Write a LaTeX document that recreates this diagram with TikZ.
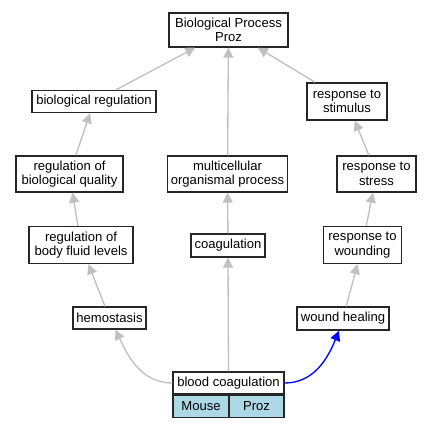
\documentclass[tikz,border=0pt]{standalone}
\usepackage{fontspec}
\setmainfont{Liberation Sans}
\usetikzlibrary{arrows.meta}
\definecolor{edgegray}{HTML}{C0C0C0}
\definecolor{cellblue}{HTML}{ADD8E6}
\tikzset{
  box/.style={draw=black!85, line width=1pt, rectangle, inner sep=0pt, align=center,
    font=\fontsize{9.8pt}{10.8pt}\selectfont, fill=white},
  edge/.style={draw=edgegray, line width=1pt, -{Triangle[length=7.5pt,width=7.5pt]}},
  bedge/.style={draw=blue, line width=1pt, -{Triangle[length=7.5pt,width=7.5pt]}},
}
\begin{document}
\begin{tikzpicture}[x=0.75pt,y=-0.75pt]
\useasboundingbox (0,0) rectangle (431,427);
\node[box, minimum width=119*0.75pt, minimum height=34*0.75pt] (bp) at (228.5,30) {Biological Process\\Proz};
\node[box, minimum width=124*0.75pt, minimum height=22*0.75pt] (br) at (94,101.5) {biological regulation};
\node[box, minimum width=80*0.75pt, minimum height=37*0.75pt] (rs) at (347,101.5) {response to\\stimulus};
\node[box, minimum width=107*0.75pt, minimum height=36*0.75pt] (rbq) at (69.5,174) {regulation of\\biological quality};
\node[box, minimum width=120*0.75pt, minimum height=36*0.75pt] (mop) at (227.5,174) {multicellular\\organismal process};
\node[box, minimum width=79*0.75pt, minimum height=36*0.75pt] (rst) at (376.5,174) {response to\\stress};
\node[box, minimum width=104*0.75pt, minimum height=37*0.75pt] (rbf) at (81,245) {regulation of\\body fluid levels};
\node[box, minimum width=74*0.75pt, minimum height=23*0.75pt] (coag) at (228,245.5) {coagulation};
\node[box, minimum width=78*0.75pt, minimum height=37*0.75pt] (rw) at (362.5,245) {response to\\wounding};
\node[box, minimum width=73*0.75pt, minimum height=22*0.75pt] (hem) at (109.5,318) {hemostasis};
\node[box, minimum width=92*0.75pt, minimum height=23*0.75pt] (wh) at (343,318.5) {wound healing};
\node[box, minimum width=111*0.75pt, minimum height=22*0.75pt] (bc) at (228.5,383) {blood coagulation};
\node[box, fill=cellblue, minimum width=56*0.75pt, minimum height=22*0.75pt, anchor=north west] (mouse) at (bc.south west) {Mouse};
\node[box, fill=cellblue, minimum width=55*0.75pt, minimum height=22*0.75pt, anchor=north east] (proz) at (bc.south east) {Proz};
\draw[edge] (br) -- (bp);
\draw[edge] (mop) -- (bp);
\draw[edge] (rs) -- (bp);
\draw[edge] (rbq) -- (br);
\draw[edge] (rst) -- (rs);
\draw[edge] (rbf) -- (rbq);
\draw[edge] (coag) -- (mop);
\draw[edge] (rw) -- (rst);
\draw[edge] (hem) -- (rbf);
\draw[edge] (wh) -- (rw);
\draw[edge] (bc.north) -- (coag.south);
\draw[edge] (bc.west) to[out=180,in=-65] ([xshift=6*0.75pt]hem.south);
\draw[bedge] (bc.east) to[out=0,in=-112] ([xshift=-4*0.75pt]wh.south);
\end{tikzpicture}
\end{document}
